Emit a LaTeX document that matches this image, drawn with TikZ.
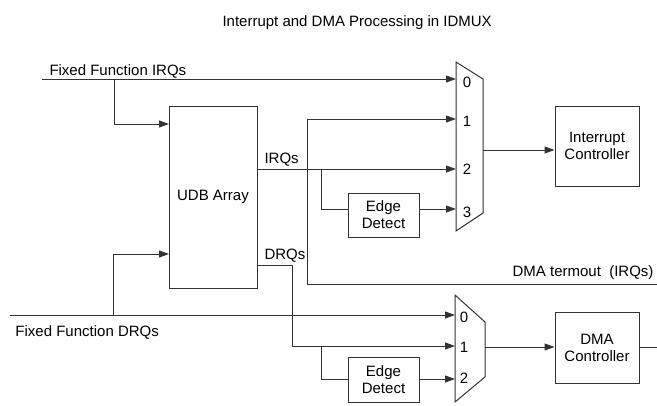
\documentclass[tikz,border=0pt]{standalone}
\usepackage{fontspec}
\setmainfont{Liberation Sans}
\usetikzlibrary{arrows.meta}

\begin{document}
\begin{tikzpicture}[x=1pt,y=-1pt,line width=1pt,color=black!80,every node/.style={text=black},box/.style={draw,align=center,inner sep=0pt,font=\fontsize{15}{17}\selectfont},lbl/.style={inner sep=0pt,font=\fontsize{15}{17}\selectfont},arr/.style={-{Triangle[length=10pt,width=7pt]}}]
\useasboundingbox (0,0) rectangle (657,405);
\node[lbl,anchor=base west] (title) at (222,26) {Interrupt and DMA Processing in IDMUX};
% blocks
\node[box,minimum width=88pt,minimum height=182pt] (udb) at (213,197) {UDB Array};
\node[box,minimum width=71pt,minimum height=44pt] (ed1) at (383.5,215) {Edge\\Detect};
\node[box,minimum width=71pt,minimum height=45pt] (ed2) at (383.5,379.5) {Edge\\Detect};
\node[box,minimum width=84pt,minimum height=80pt] (ic) at (597,146) {Interrupt\\Controller};
\node[box,minimum width=84pt,minimum height=71pt] (dma) at (597,347.5) {DMA\\Controller};
% muxes
\draw (456,62) -- (483,79) -- (483,213) -- (456,231) -- cycle;
\draw (455,295) -- (485,322) -- (485,377) -- (455,402) -- cycle;
\coordinate (m1i0) at (456,79);
\coordinate (m1i1) at (456,119);
\coordinate (m1i2) at (456,169);
\coordinate (m1i3) at (456,209);
\coordinate (m1o) at (483,150);
\coordinate (m2i0) at (455,315);
\coordinate (m2i1) at (455,346);
\coordinate (m2i2) at (455,379);
\coordinate (m2o) at (485,347);
\foreach \n/\y in {0/82,1/121,2/169,3/212}
  \node[lbl] at (467,\y) {\n};
\foreach \n/\y in {0/317,1/347,2/378}
  \node[lbl] at (464,\y) {\n};
% fixed function irqs
\coordinate (ffi) at (42,79);
\coordinate (ffib) at (114,79);
\coordinate (udbi1) at (169,124);
\node[lbl,anchor=base west] (ffil) at (49,75.5) {Fixed Function IRQs};
\draw[arr] (ffi) -- (m1i0);
\draw[arr] (ffib) |- (udbi1);
% irqs from udb
\coordinate (irqb) at (321,169);
\node[lbl,anchor=base west] (irql) at (264,163) {IRQs};
\draw[arr] (udb.east |- m1i2) -- (m1i2);
\draw (irqb) |- (ed1.west |- m1i3);
\draw[arr] (ed1.east |- m1i3) -- (m1i3);
\draw[arr] (m1o) -- (ic.west |- m1o);
% dma termout
\coordinate (tm) at (657,284);
\coordinate (tmc) at (307,119);
\node[lbl,anchor=base east] (tml) at (654,276) {DMA termout\ \ (IRQs)};
\draw[arr] (tm) -| (tmc) -- (m1i1);
% fixed function drqs
\coordinate (ffd) at (10,315);
\coordinate (ffdb) at (113,315);
\coordinate (udbi2) at (169,254);
\node[lbl,anchor=base west] (ffdl) at (15,336) {Fixed Function DRQs};
\draw[arr] (ffd) -- (m2i0);
\draw[arr] (ffdb) |- (udbi2);
% drqs from udb
\coordinate (drq) at (292,265);
\coordinate (drqb) at (321,346);
\node[lbl,anchor=base west] (drql) at (264,259) {DRQs};
\draw[arr] (udb.east |- drq) -- (drq) |- (m2i1);
\draw (drqb) |- (ed2.west |- m2i2);
\draw[arr] (ed2.east |- m2i2) -- (m2i2);
\draw[arr] (m2o) -- (dma.west |- m2o);
\coordinate (dmo) at (657,347);
\draw (dma.east |- m2o) -- (dmo);
\end{tikzpicture}
\end{document}
